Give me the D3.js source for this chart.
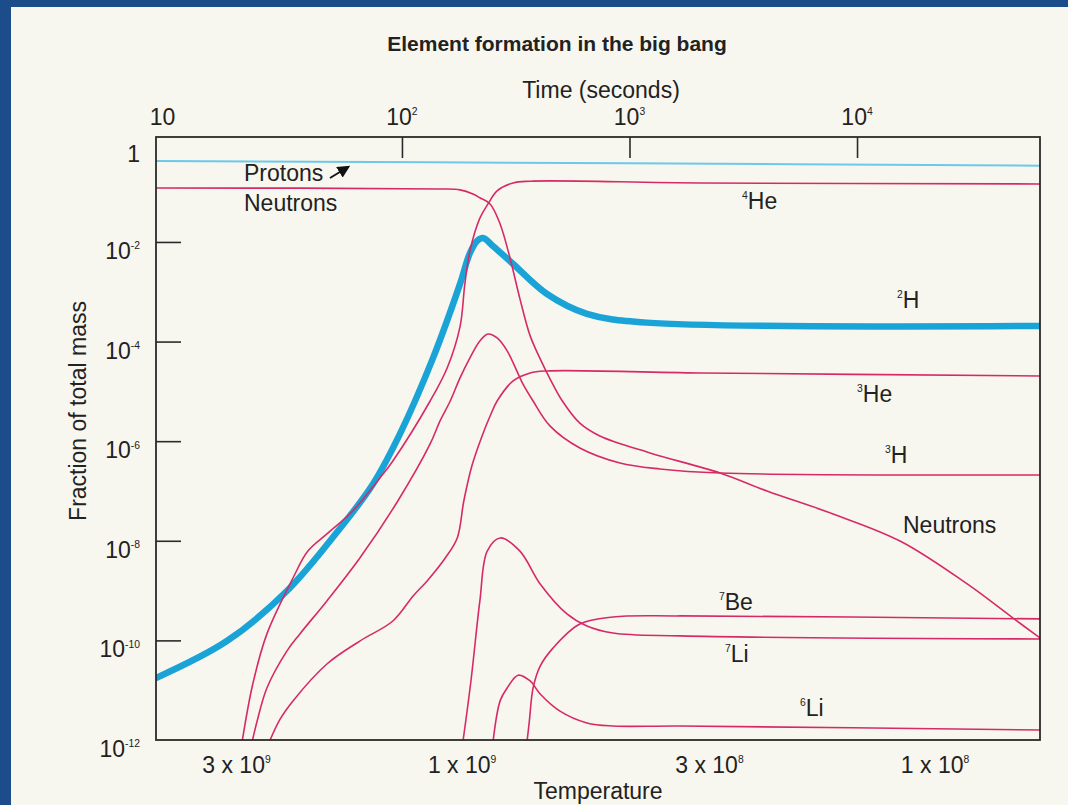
<!DOCTYPE html>
<html>
<head>
<meta charset="utf-8">
<script src="https://cdn.jsdelivr.net/npm/d3@7"></script>
<style>
    body { margin: 0; background: #1d4c8a; overflow: hidden; }
    text { font-family: "Liberation Sans", Arial, sans-serif; fill: #222; }
</style>
</head>
<body>
<div id="chart"></div>
<script>
// Tick values
var timeTicks = [10, 100, 1000, 10000];
var massTicks = [1, 1e-2, 1e-4, 1e-6, 1e-8, 1e-10, 1e-12];
var tempTicks = [3e9, 1e9, 3e8, 1e8];
var tempLabels = ["3 x 10|9", "1 x 10|9", "3 x 10|8", "1 x 10|8"];

// Each series: [time (s), fraction of total mass]
var protons = [[8.3, 0.42], [1000, 0.38], [63700, 0.34]];

var neutrons = [[8.3, 0.121], [147, 0.116], [180, 0.111], [205, 0.092], [220, 0.077],
    [244, 0.058], [270, 0.023], [299, 4.6e-3], [330, 7.2e-4], [366, 1.3e-4],
    [405, 4.5e-5], [448, 1.77e-5], [507, 6.4e-6], [605, 2.3e-6], [741, 1.27e-6],
    [1230, 5.8e-7], [2500, 2.3e-7], [4020, 1.0e-7], [7850, 3.45e-8],
    [15450, 9.9e-9], [30500, 1.36e-9], [48500, 2.8e-10], [63700, 1.12e-10]];

var he4 = [[19.8, 8.7e-13], [22.1, 1.33e-11], [25.5, 1.35e-10], [33.2, 1.79e-9],
    [38.6, 6.2e-9], [46.8, 1.37e-8], [60.9, 4.0e-8], [80, 1.82e-7], [91.2, 4.0e-7],
    [133, 6.4e-6], [158, 2.95e-5], [180, 2.0e-4], [189, 1.44e-3], [199, 6.6e-3],
    [220, 0.030], [239, 0.058], [262, 0.106], [308, 0.153], [366, 0.166],
    [2040, 0.153], [63700, 0.146]];

var h2 = [[8.3, 1.76e-11], [17.0, 9.7e-11], [31.2, 9.8e-10], [52.3, 1.57e-8],
    [74.6, 1.38e-7], [98, 1.4e-6], [137, 4.7e-5], [180, 1.44e-3], [199, 6.0e-3],
    [214, 0.0105], [227, 0.012], [251, 0.0083], [308, 0.0036], [434, 9.0e-4],
    [650, 3.6e-4], [1190, 2.4e-4], [63700, 2.06e-4]];

var h3 = [[21.9, 8.7e-13], [23.1, 2.4e-12], [25.5, 1.11e-11], [31.2, 6.1e-11],
    [35.6, 1.35e-10], [46.8, 6.2e-10], [65.3, 4.5e-9], [95.9, 6.3e-8], [133, 8.8e-7],
    [147, 2.55e-6], [163, 6.4e-6], [180, 1.86e-5], [199, 4.7e-5], [220, 1.03e-4],
    [239, 1.42e-4], [262, 1.18e-4], [290, 6.5e-5], [340, 1.41e-5], [377, 6.4e-6],
    [448, 2.0e-6], [605, 7.3e-7], [908, 3.65e-7], [1360, 2.77e-7], [2500, 2.3e-7],
    [63700, 2.1e-7]];

var he3 = [[26.0, 8.7e-13], [29.1, 2.6e-12], [33.2, 6.1e-12], [46.8, 3.36e-11],
    [65.3, 9.7e-11], [91.2, 2.45e-10], [112, 7.8e-10], [129, 1.56e-9], [155, 4.5e-9],
    [175, 1.14e-8], [187, 6.3e-8], [203, 3.2e-7], [225, 1.27e-6], [244, 3.2e-6],
    [262, 6.4e-6], [308, 1.62e-5], [366, 2.34e-5], [434, 2.57e-5], [2040, 2.34e-5],
    [63700, 2.04e-5]];

var li7 = [[185, 8.7e-13], [201, 1.53e-11], [220, 6.2e-10], [237, 6.2e-9],
    [270, 1.14e-8], [330, 6.2e-9], [405, 1.36e-9], [531, 3.4e-10], [650, 1.95e-10],
    [846, 1.41e-10], [1670, 1.23e-10], [63700, 1.07e-10]];

var be7 = [[354, 8.7e-13], [363, 2.4e-12], [377, 1.11e-11], [405, 3.05e-11],
    [461, 7.0e-11], [605, 2.13e-10], [846, 2.95e-10], [1670, 3.1e-10], [63700, 2.7e-10]];

var li6 = [[251, 8.7e-13], [270, 6.1e-12], [290, 1.11e-11], [324, 2.0e-11],
    [366, 1.53e-11], [405, 8.4e-12], [495, 3.8e-12], [650, 2.2e-12], [846, 1.91e-12],
    [1670, 1.91e-12], [63700, 1.59e-12]];

var svg, width = 1068, height = 805;
var plotLeft = 156, plotRight = 1040, plotTop = 137, plotBottom = 740;
var pink = "#d62a68", cyan = "#1aa3d6";
var fontSize = 23;

function init() {
    svg = d3.select("#chart")
        .append("svg")
        .attr("width", width)
        .attr("height", height);

    // Slide background and the paper panel
    svg.append("rect").attr("width", width).attr("height", height).attr("fill", "#1d4c8a");
    svg.append("rect")
        .attr("x", 11).attr("y", 7)
        .attr("width", width - 11).attr("height", height - 7)
        .attr("fill", "#f8f7ef");

    drawChart();
}

// text with a superscript; sup goes before (isotopes) or after (powers of ten)
function supLabel(x, y, base, sup, supFirst, size, anchor) {
    var t = svg.append("text")
        .attr("x", x)
        .attr("y", y)
        .attr("text-anchor", anchor || "start")
        .style("font-size", size + "px");
    var shift = size * 0.42;
    if (supFirst) {
        t.append("tspan").attr("dy", -shift).style("font-size", (size * 0.45) + "px").text(sup);
        t.append("tspan").attr("dy", shift).text(base);
    } else {
        t.append("tspan").text(base);
        if (sup) t.append("tspan").attr("dy", -shift).style("font-size", (size * 0.45) + "px").text(sup);
    }
    return t;
}

function drawChart() {
    var x = d3.scaleLog().domain([8.3, 63700]).range([plotLeft, plotRight]);
    var y = d3.scaleLog().domain([1e-12, 1.28]).range([plotBottom, plotTop]);
    var tScale = d3.scaleLog().domain([4.44e9, 6.0e7]).range([plotLeft, plotRight]);

    svg.append("clipPath").attr("id", "plot")
        .append("rect")
        .attr("x", plotLeft).attr("y", plotTop)
        .attr("width", plotRight - plotLeft).attr("height", plotBottom - plotTop);

    var line = d3.line()
        .x(function(d) { return x(d[0]); })
        .y(function(d) { return y(d[1]); })
        .curve(d3.curveCatmullRom.alpha(0.5));

    var curves = svg.append("g").attr("clip-path", "url(#plot)");

    // cyan lines first, pink on top
    curves.append("path").datum(protons)
        .attr("d", line).attr("fill", "none")
        .attr("stroke", "#6cc9ea").attr("stroke-width", 2);
    curves.append("path").datum(h2)
        .attr("d", line).attr("fill", "none")
        .attr("stroke", cyan).attr("stroke-width", 6.5)
        .attr("stroke-linecap", "round").attr("stroke-linejoin", "round");

    [neutrons, he4, h3, he3, li7, be7, li6].forEach(function(s) {
        curves.append("path").datum(s)
            .attr("d", line).attr("fill", "none")
            .attr("stroke", pink).attr("stroke-width", 1.6);
    });

    // Frame
    svg.append("rect")
        .attr("x", plotLeft).attr("y", plotTop)
        .attr("width", plotRight - plotLeft).attr("height", plotBottom - plotTop)
        .attr("fill", "none").attr("stroke", "#2a2a2a").attr("stroke-width", 1.8);

    // Inward ticks, top (time) and left (mass)
    svg.append("g")
        .attr("transform", "translate(0," + plotTop + ")")
        .call(d3.axisTop(x).tickValues([100, 1000, 10000]).tickSize(-21).tickFormat(""))
        .call(function(g) { g.select(".domain").remove(); })
        .selectAll("line").attr("stroke", "#2a2a2a").attr("stroke-width", 1.6);

    svg.append("g")
        .attr("transform", "translate(" + plotLeft + ",0)")
        .call(d3.axisLeft(y).tickValues([1e-2, 1e-4, 1e-6, 1e-8, 1e-10]).tickSize(-25).tickFormat(""))
        .call(function(g) { g.select(".domain").remove(); })
        .selectAll("line").attr("stroke", "#2a2a2a").attr("stroke-width", 1.6);

    // Tick labels
    timeTicks.forEach(function(v, i) {
        var e = Math.round(Math.log10(v));
        if (i === 0) supLabel(x(v) + 1, 125, "10", "", false, fontSize, "end");
        else supLabel(x(v), 125, "10", String(e), false, fontSize, "middle");
    });
    massTicks.forEach(function(v) {
        var e = Math.round(Math.log10(v));
        if (e === 0) supLabel(140, y(v) + 20, "1", "", false, fontSize, "end");
        else supLabel(140, y(v) + 17, "10", String(e), false, fontSize, "end");
    });
    tempTicks.forEach(function(v, i) {
        var p = tempLabels[i].split("|");
        supLabel(tScale(v), 773, p[0], p[1], false, fontSize, "middle");
    });

    // Titles
    svg.append("text").attr("x", 557).attr("y", 51)
        .attr("text-anchor", "middle")
        .style("font-size", "21px").style("font-weight", "bold")
        .text("Element formation in the big bang");
    svg.append("text").attr("x", 601).attr("y", 98)
        .attr("text-anchor", "middle").style("font-size", fontSize + "px")
        .text("Time (seconds)");
    svg.append("text").attr("x", 598).attr("y", 799)
        .attr("text-anchor", "middle").style("font-size", fontSize + "px")
        .text("Temperature");
    svg.append("text")
        .attr("transform", "translate(86,411) rotate(-90)")
        .attr("text-anchor", "middle").style("font-size", fontSize + "px")
        .text("Fraction of total mass");

    // Curve labels
    svg.append("text").attr("x", 244).attr("y", 181).style("font-size", fontSize + "px").text("Protons");
    svg.append("text").attr("x", 244).attr("y", 211).style("font-size", fontSize + "px").text("Neutrons");
    svg.append("text").attr("x", 903).attr("y", 533).style("font-size", fontSize + "px").text("Neutrons");

    var iso = [["4", "He", 742, 209], ["2", "H", 897, 308], ["3", "He", 857, 402],
               ["3", "H", 885, 463], ["7", "Be", 719, 610], ["7", "Li", 725, 662],
               ["6", "Li", 800, 716]];
    iso.forEach(function(d) { supLabel(d[2], d[3], d[1], d[0], true, fontSize, "start"); });

    // Arrow from "Protons" to the proton line
    svg.append("defs").append("marker")
        .attr("id", "head").attr("viewBox", "0 0 10 10")
        .attr("refX", 8).attr("refY", 5)
        .attr("markerWidth", 7).attr("markerHeight", 7)
        .attr("orient", "auto")
        .append("path").attr("d", "M0,0L10,5L0,10z").attr("fill", "#111");
    svg.append("line")
        .attr("x1", 330).attr("y1", 178).attr("x2", 348).attr("y2", 167)
        .attr("stroke", "#111").attr("stroke-width", 1.8)
        .attr("marker-end", "url(#head)");
}

window.onload = init;
</script>
</body>
</html>
